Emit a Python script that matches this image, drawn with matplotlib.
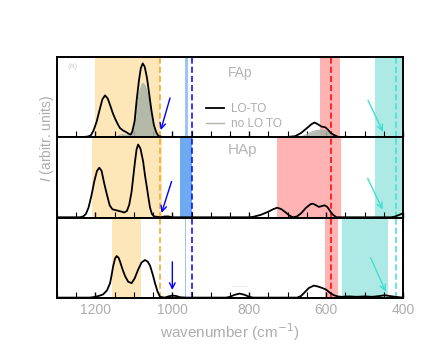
import numpy as np
import matplotlib.pyplot as plt
from matplotlib.ticker import MultipleLocator

plt.rcParams['font.family'] = ['Liberation Sans', 'DejaVu Sans']

# ---- spectra (wavenumber, intensity in panel units) ----
fap_wn = [1300, 1230, 1220, 1212, 1205, 1197, 1188, 1182, 1175, 1168, 1162, 1155, 1149,
          1142, 1136, 1128, 1120, 1112, 1108, 1104, 1098, 1093, 1087, 1082, 1077, 1072,
          1066, 1060, 1054, 1048, 1042, 1036, 1025, 700, 680, 665, 650, 638, 630, 622,
          612, 602, 595, 588, 578, 568, 400]
fap_lo = [0, 0, 0.005, 0.02, 0.08, 0.19, 0.36, 0.47, 0.52, 0.48, 0.40, 0.30, 0.23,
          0.16, 0.11, 0.08, 0.06, 0.035, 0.03, 0.07, 0.20, 0.45, 0.70, 0.86, 0.92, 0.88,
          0.74, 0.53, 0.32, 0.15, 0.06, 0.01, 0, 0, 0.01, 0.05, 0.11, 0.16, 0.18, 0.16,
          0.13, 0.12, 0.09, 0.05, 0.02, 0, 0]

fap_nolo_wn = [1300, 1145, 1138, 1130, 1122, 1112, 1104, 1098, 1092, 1086, 1080, 1076,
               1071, 1065, 1059, 1053, 1047, 1041, 1035, 1028, 665, 650, 638, 625, 610,
               598, 588, 578, 565, 400]
fap_nolo = [0, 0, 0.02, 0.03, 0.02, 0.02, 0.06, 0.16, 0.36, 0.55, 0.65, 0.67,
            0.64, 0.54, 0.40, 0.25, 0.12, 0.05, 0.01, 0, 0, 0.03, 0.06, 0.08, 0.085,
            0.07, 0.04, 0.015, 0, 0]

hap_wn = [1300, 1240, 1232, 1225, 1218, 1210, 1203, 1196, 1190, 1184, 1177, 1170, 1163,
          1156, 1148, 1140, 1132, 1125, 1118, 1112, 1106, 1102, 1097, 1093, 1089, 1083,
          1076, 1071, 1067, 1062, 1058, 1053, 1047, 1030, 1020, 1010, 1000, 800, 790,
          770, 750, 738, 727, 716, 705, 695, 686, 676, 665, 652, 640, 634, 626, 619,
          611, 604, 597, 590, 582, 573, 430, 420, 410, 400]
hap_lo = [0, 0, 0.01, 0.04, 0.12, 0.28, 0.45, 0.58, 0.62, 0.58, 0.42, 0.28, 0.15,
          0.10, 0.09, 0.08, 0.07, 0.06, 0.08, 0.16, 0.32, 0.49, 0.70, 0.85, 0.91, 0.86,
          0.70, 0.52, 0.40, 0.24, 0.12, 0.04, 0.01, 0, 0.01, 0.01, 0, 0, 0.005,
          0.03, 0.07, 0.10, 0.12, 0.10, 0.06, 0.02, 0, 0.01, 0.05, 0.12, 0.165, 0.17, 0.15, 0.13,
          0.14, 0.15, 0.13, 0.08, 0.03, 0, 0, 0.01, 0.03, 0.05]

bot_wn = [1300, 1215, 1206, 1192, 1180, 1170, 1162, 1158, 1154, 1149, 1145, 1140, 1136,
          1130, 1123, 1115, 1106, 1098, 1089, 1080, 1071, 1064, 1058, 1051, 1045, 1038,
          1032, 1020, 1010, 1000, 990, 980, 965, 860, 850, 838, 825, 812, 800, 790,
          675, 665, 655, 645, 632, 622, 610, 600, 590, 580, 570, 560, 540, 520, 500,
          480, 460, 448, 435, 420, 400]
bot_lo = [0, 0, 0.005, 0.02, 0.04, 0.09, 0.18, 0.28, 0.39, 0.49, 0.52, 0.50, 0.45,
          0.36, 0.27, 0.20, 0.18, 0.24, 0.35, 0.44, 0.47, 0.45, 0.40, 0.29, 0.18, 0.07,
          0.01, 0, 0.015, 0.025, 0.02, 0.005, 0, 0, 0.01, 0.035, 0.05, 0.035, 0.01, 0,
          0, 0.02, 0.07, 0.12, 0.15, 0.14, 0.12, 0.10, 0.06, 0.03, 0.015, 0.01, 0.015, 0.01, 0.015,
          0.01, 0.02, 0.03, 0.02, 0.01, 0]

# ---- shaded regions (cm-1) per panel ----
orange_bands = [(1032, 1200), (1028, 1210), (1082, 1156)]
blue_bands = [(959, 967), (950, 980), (964, 968)]
red_bands = [(565, 617), (562, 727), (570, 604)]
cyan_bands = [(402, 474), (402, 474), (439, 558)]
dash_lines = {'#f5a31f': 1032, 'blue': 950, 'red': 586, '#3fe0d0': 418}

# arrows: (x_start, y_start, x_end, y_end), y in axes fraction
blue_arrows = [(1006, 0.49, 1030, 0.09), (1002, 0.45, 1028, 0.06), (1000, 0.45, 1000, 0.10)]
cyan_arrows = [(491, 0.46, 452, 0.07), (492, 0.49, 453, 0.10), (484, 0.50, 445, 0.08)]

grey_txt = '#adadad'

fig = plt.figure(figsize=(4.46, 3.45), dpi=100)
axes = []
top, bot = 1 - 57 / 345, 1 - 298 / 345
h = (top - bot) / 3
for i in range(3):
    ax = fig.add_axes([57 / 446, top - (i + 1) * h, 346 / 446, h])
    axes.append(ax)

curves = [(fap_wn, fap_lo), (hap_wn, hap_lo), (bot_wn, bot_lo)]
for i, ax in enumerate(axes):
    ax.axvspan(*orange_bands[i], color='#fde6b8', lw=0, zorder=0)
    ax.axvspan(*blue_bands[i], color='#6eaaf2' if i == 1 else '#9cc4f4', lw=0, zorder=0)
    ax.axvspan(*red_bands[i], color='#ffb3b3', lw=0, zorder=0)
    ax.axvspan(*cyan_bands[i], color='#aeeae5', lw=0, zorder=0)
    for c, x in dash_lines.items():
        ax.axvline(x, color=c, lw=1.1, ls=(0, (4, 2)), zorder=1)
    if i == 0:
        ax.fill_between(fap_nolo_wn, fap_nolo, color='#a9b2a6', alpha=0.85, lw=0, zorder=2)
        ax.plot(fap_nolo_wn, fap_nolo, color='#aab5ad', lw=0.8, zorder=2)
    wn, y = curves[i]
    ax.plot(wn, y, color='black', lw=1.3, zorder=3, label='LO-TO' if i == 0 else None)
    if i == 0:
        ax.plot([], [], color='#aab5ad', lw=1, label='no LO TO')

    for xs, ys, xe, ye in [blue_arrows[i]]:
        ax.annotate('', xy=(xe, ye), xytext=(xs, ys), xycoords=('data', 'axes fraction'),
                    textcoords=('data', 'axes fraction'),
                    arrowprops=dict(arrowstyle='->', color='blue', lw=1, shrinkA=0, shrinkB=0))
    for xs, ys, xe, ye in [cyan_arrows[i]]:
        ax.annotate('', xy=(xe, ye), xytext=(xs, ys), xycoords=('data', 'axes fraction'),
                    textcoords=('data', 'axes fraction'),
                    arrowprops=dict(arrowstyle='->', color='#3fe0d0', lw=1, shrinkA=0, shrinkB=0))

    ax.set_xlim(1300, 400)
    ax.set_ylim(-0.005, 1.0)
    ax.set_yticks([])
    ax.xaxis.set_major_locator(MultipleLocator(200))
    ax.xaxis.set_minor_locator(MultipleLocator(50))
    ax.tick_params(axis='x', which='major', direction='in', length=4, width=1, colors='black',
                   labelcolor=grey_txt, labelsize=10)
    ax.tick_params(axis='x', which='minor', direction='in', length=4, width=0.8)
    for s in ax.spines.values():
        s.set_linewidth(1.4)
    if i < 2:
        ax.tick_params(axis='x', labelbottom=False)

axes[0].text(0.03, 0.86, '(a)', transform=axes[0].transAxes, fontsize=6, color='#cfcfcf')
axes[0].text(0.53, 0.80, 'FAp', transform=axes[0].transAxes, fontsize=10, color='#b5b5b5',
             ha='center', va='center')
axes[1].text(0.535, 0.84, 'HAp', transform=axes[1].transAxes, fontsize=11, color='#b5b5b5',
             ha='center', va='center')
axes[2].text(0.53, 0.14, '— —', transform=axes[2].transAxes, fontsize=5, color='#d4d4d4',
             ha='center', va='center')
axes[0].legend(loc='upper left', bbox_to_anchor=(0.40, 0.56), frameon=False, fontsize=8.5,
               handlelength=1.5, handletextpad=0.6, labelspacing=0.25, labelcolor=grey_txt)

axes[2].set_xlabel('wavenumber (cm$^{-1}$)', color=grey_txt, fontsize=11, labelpad=3)
fig.text(47 / 446, 1 - 139 / 345, '$I$ (arbitr. units)', rotation=90, color=grey_txt,
         fontsize=10, ha='center', va='center')

fig.savefig('out.png', dpi=100)
